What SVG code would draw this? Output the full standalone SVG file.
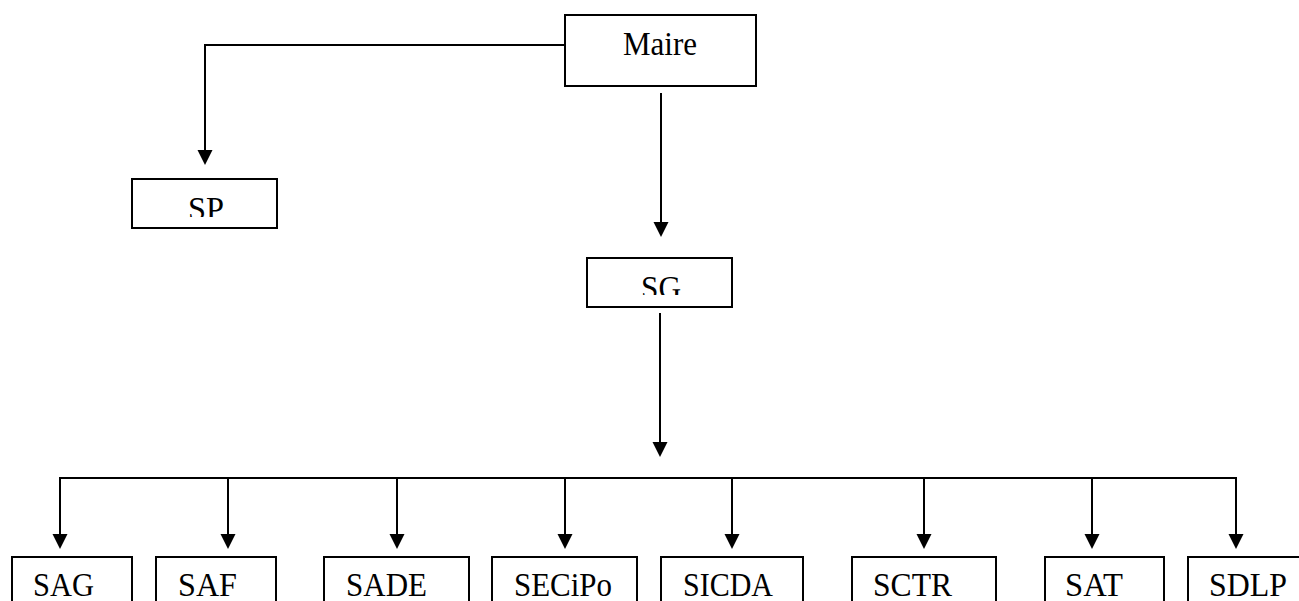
<svg xmlns="http://www.w3.org/2000/svg" width="1299" height="601" viewBox="0 0 1299 601">
<style>
.box{fill:#fff;stroke:#000;stroke-width:2}
.lbl{font-family:"Liberation Serif","Times New Roman",serif;font-size:33px;fill:#000}
.conn{fill:none;stroke:#000;stroke-width:2}
</style>
<defs>
<marker id="arr" markerUnits="userSpaceOnUse" markerWidth="16" markerHeight="16" refX="0" refY="7.5" orient="auto">
<path d="M0,0 L15,7.5 L0,15 Z" fill="#000"/>
</marker>
<clipPath id="cSP"><rect x="133" y="180" width="143" height="37"/></clipPath>
<clipPath id="cSG"><rect x="588" y="259" width="143" height="36"/></clipPath>
</defs>
<rect width="1299" height="601" fill="#fff"/>
<g id="connectors">
<polyline class="conn" points="565,45 205,45 205,150" marker-end="url(#arr)"/>
<line class="conn" x1="661" y1="93" x2="661" y2="222" marker-end="url(#arr)"/>
<line class="conn" x1="660" y1="313" x2="660" y2="442" marker-end="url(#arr)"/>
<line class="conn" x1="59" y1="478" x2="1237" y2="478"/>
<line class="conn" x1="60" y1="478" x2="60" y2="534" marker-end="url(#arr)"/>
<line class="conn" x1="228" y1="478" x2="228" y2="534" marker-end="url(#arr)"/>
<line class="conn" x1="397" y1="478" x2="397" y2="534" marker-end="url(#arr)"/>
<line class="conn" x1="565" y1="478" x2="565" y2="534" marker-end="url(#arr)"/>
<line class="conn" x1="732" y1="478" x2="732" y2="534" marker-end="url(#arr)"/>
<line class="conn" x1="924" y1="478" x2="924" y2="534" marker-end="url(#arr)"/>
<line class="conn" x1="1092" y1="478" x2="1092" y2="534" marker-end="url(#arr)"/>
<line class="conn" x1="1236" y1="478" x2="1236" y2="534" marker-end="url(#arr)"/>
</g>
<g id="maire"><rect class="box" x="565" y="15" width="191" height="71"/><text class="lbl" x="623" y="55" textLength="74" lengthAdjust="spacingAndGlyphs">Maire</text></g>
<g id="sp"><rect class="box" x="132" y="179" width="145" height="49"/><text class="lbl" x="188" y="220" textLength="36" lengthAdjust="spacingAndGlyphs" clip-path="url(#cSP)">SP</text></g>
<g id="sg"><rect class="box" x="587" y="258" width="145" height="49"/><text class="lbl" x="641" y="299" textLength="40" lengthAdjust="spacingAndGlyphs" clip-path="url(#cSG)">SG</text></g>
<g id="sag"><rect class="box" x="12" y="557" width="120" height="60"/><text class="lbl" x="33" y="596" textLength="61" lengthAdjust="spacingAndGlyphs">SAG</text></g>
<g id="saf"><rect class="box" x="156" y="557" width="120" height="60"/><text class="lbl" x="178" y="596" textLength="59" lengthAdjust="spacingAndGlyphs">SAF</text></g>
<g id="sade"><rect class="box" x="324" y="557" width="145" height="60"/><text class="lbl" x="346" y="596" textLength="81" lengthAdjust="spacingAndGlyphs">SADE</text></g>
<g id="secipo"><rect class="box" x="492" y="557" width="145" height="60"/><text class="lbl" x="514" y="596" textLength="98" lengthAdjust="spacingAndGlyphs">SECiPo</text></g>
<g id="sicda"><rect class="box" x="661" y="557" width="142" height="60"/><text class="lbl" x="683" y="596" textLength="90" lengthAdjust="spacingAndGlyphs">SICDA</text></g>
<g id="sctr"><rect class="box" x="852" y="557" width="144" height="60"/><text class="lbl" x="873" y="596" textLength="79" lengthAdjust="spacingAndGlyphs">SCTR</text></g>
<g id="sat"><rect class="box" x="1045" y="557" width="119" height="60"/><text class="lbl" x="1065" y="596" textLength="58" lengthAdjust="spacingAndGlyphs">SAT</text></g>
<g id="sdlp"><rect class="box" x="1188" y="557" width="130" height="60"/><text class="lbl" x="1209" y="596" textLength="78" lengthAdjust="spacingAndGlyphs">SDLP</text></g>
</svg>
